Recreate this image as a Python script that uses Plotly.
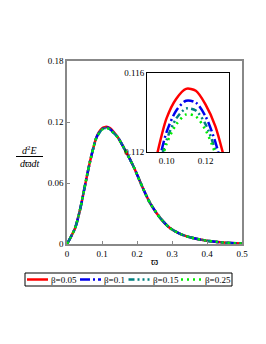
import plotly.graph_objects as go

# ---- data ----
x_left = [0, 0.0229, 0.0371, 0.0514, 0.0657, 0.08, 0.085]
y_left = [0, 0.0155, 0.0336, 0.0575, 0.081, 0.1005, 0.1055]

x_peak = [0.09, 0.095, 0.10, 0.105, 0.11, 0.115, 0.12, 0.125, 0.13]
y_peak_b005 = [0.1093, 0.1118, 0.1137, 0.1147, 0.1152, 0.1151, 0.1144, 0.1133, 0.1115]
y_peak_b010 = [0.1085, 0.1110, 0.1130, 0.1141, 0.1146, 0.1145, 0.1138, 0.1125, 0.1106]
y_peak_b015 = [0.1081, 0.1107, 0.1126, 0.1137, 0.1142, 0.1141, 0.1134, 0.1121, 0.1103]
y_peak_b025 = [0.1080, 0.1105, 0.1124, 0.1134, 0.1139, 0.1138, 0.1131, 0.1119, 0.1101]

x_right = [0.145, 0.161, 0.189, 0.218, 0.237, 0.266, 0.294, 0.323, 0.351, 0.399, 0.447, 0.5]
y_right = [0.1050, 0.0955, 0.077, 0.054, 0.0405, 0.0257, 0.0157, 0.0100, 0.0066, 0.0033, 0.0014, 0.0005]

series_names = ["β=0.05", "β=0.1", "β=0.15", "β=0.25"]
series_peaks = [y_peak_b005, y_peak_b010, y_peak_b015, y_peak_b025]
series_colors = ["#ff0000", "#0000ee", "#008080", "#00ee00"]
series_dash = ["solid", "10px,3px,2px,3px", "6px,3px,2px,3px,2px,3px", "2px,4px"]

x_ticks = [0, 0.1, 0.2, 0.3, 0.4, 0.5]
x_ticktext = ["0", "0.1", "0.2", "0.3", "0.4", "0.5"]
y_ticks = [0, 0.06, 0.12, 0.18]
y_ticktext = ["0", "0.06", "0.12", "0.18"]
inset_x_ticks = [0.10, 0.12]
inset_x_ticktext = ["0.10", "0.12"]
inset_y_ticks = [0.112, 0.116]
inset_y_ticktext = ["0.112", "0.116"]

FONT = "Liberation Serif, Times New Roman, serif"
OFF = 8  # default page body margin
W, H = 266 - OFF, 344 - OFF
ML, MR, MT, MB = 67 - OFF, 24, 61 - OFF, 100
PW, PH = W - ML - MR, H - MT - MB


def px_x(x):
    # page pixel -> paper fraction
    return (x - OFF - ML) / PW


def px_y(y):
    return (H - MB - (y - OFF)) / PH


fig = go.Figure()
x_all = x_left + x_peak + x_right
for name, peak, col, dash in zip(series_names, series_peaks, series_colors, series_dash):
    y_all = y_left + peak + y_right
    fig.add_trace(go.Scatter(x=x_all, y=y_all, mode="lines", name=name, showlegend=False,
                             line=dict(color=col, width=2.5, dash=dash, shape="spline", smoothing=0.8),
                             xaxis="x", yaxis="y"))
for name, peak, col, dash in zip(series_names, series_peaks, series_colors, series_dash):
    y_all = y_left + peak + y_right
    fig.add_trace(go.Scatter(x=x_all, y=y_all, mode="lines", name=name, showlegend=False,
                             line=dict(color=col, width=2.5, dash=dash, shape="spline", smoothing=0.8),
                             xaxis="x2", yaxis="y2"))

fig.update_layout(
    width=W, height=H,
    margin=dict(l=ML, r=MR, t=MT, b=MB, autoexpand=False),
    paper_bgcolor="white", plot_bgcolor="white",
    font=dict(family=FONT, size=9, color="black"),
    xaxis=dict(range=[0, 0.5], tickvals=x_ticks, ticktext=x_ticktext, showgrid=False, zeroline=False,
               showline=True, mirror=True, linecolor="#888", linewidth=1.5,
               ticks="inside", ticklen=3, tickcolor="#888", domain=[0, 1],
               title=dict(text="ϖ", font=dict(size=11, family=FONT), standoff=0)),
    yaxis=dict(range=[0, 0.18], tickvals=y_ticks, ticktext=y_ticktext, showgrid=False, zeroline=False,
               showline=True, mirror=True, linecolor="#888", linewidth=1.5,
               ticks="inside", ticklen=3, tickcolor="#888", domain=[0, 1]),
    xaxis2=dict(range=[0.09, 0.132], tickvals=inset_x_ticks, ticktext=inset_x_ticktext, showgrid=False,
                zeroline=False, showline=True, mirror=True, linecolor="black", linewidth=1,
                ticks="", domain=[0.457, 0.926], anchor="y2"),
    yaxis2=dict(range=[0.112, 0.116], tickvals=inset_y_ticks, ticktext=inset_y_ticktext, showgrid=False,
                zeroline=False, showline=True, mirror=True, linecolor="black", linewidth=1,
                ticks="", domain=[0.503, 0.934], anchor="x2", ticklabelstandoff=0),
    showlegend=False,
)

# y-axis title as a fraction
fig.add_annotation(xref="paper", yref="paper", x=px_x(29.5), y=px_y(150), text="<i>d</i><sup>2</sup><i>E</i>",
                   showarrow=False, font=dict(size=10, family=FONT), xanchor="center", yanchor="middle")
fig.add_annotation(xref="paper", yref="paper", x=px_x(29.5), y=px_y(163), text="<i>d</i>ϖ<i>dt</i>",
                   showarrow=False, font=dict(size=10, family=FONT), xanchor="center", yanchor="middle")
fig.add_shape(type="line", xref="paper", yref="paper", x0=px_x(16), x1=px_x(43),
              y0=px_y(156.5), y1=px_y(156.5), line=dict(color="black", width=1))

# legend drawn as a boxed row of line samples and labels
leg_top, leg_bot = 273, 286
leg_mid = (leg_top + leg_bot) / 2
fig.add_shape(type="rect", xref="paper", yref="paper", x0=px_x(25), x1=px_x(232),
              y0=px_y(leg_bot), y1=px_y(leg_top), line=dict(color="black", width=1), fillcolor="white")
line_starts = [27, 80, 128.5, 181]
for name, col, dash, xs in zip(series_names, series_colors, series_dash, line_starts):
    fig.add_shape(type="line", xref="paper", yref="paper", x0=px_x(xs), x1=px_x(xs + 21),
                  y0=px_y(leg_mid), y1=px_y(leg_mid), line=dict(color=col, width=2.5, dash=dash))
    fig.add_annotation(xref="paper", yref="paper", x=px_x(xs + 23), y=px_y(leg_mid), text=name,
                       showarrow=False, font=dict(size=9, family=FONT), xanchor="left", yanchor="middle",
                       borderpad=0)

fig.write_html("out.html")
